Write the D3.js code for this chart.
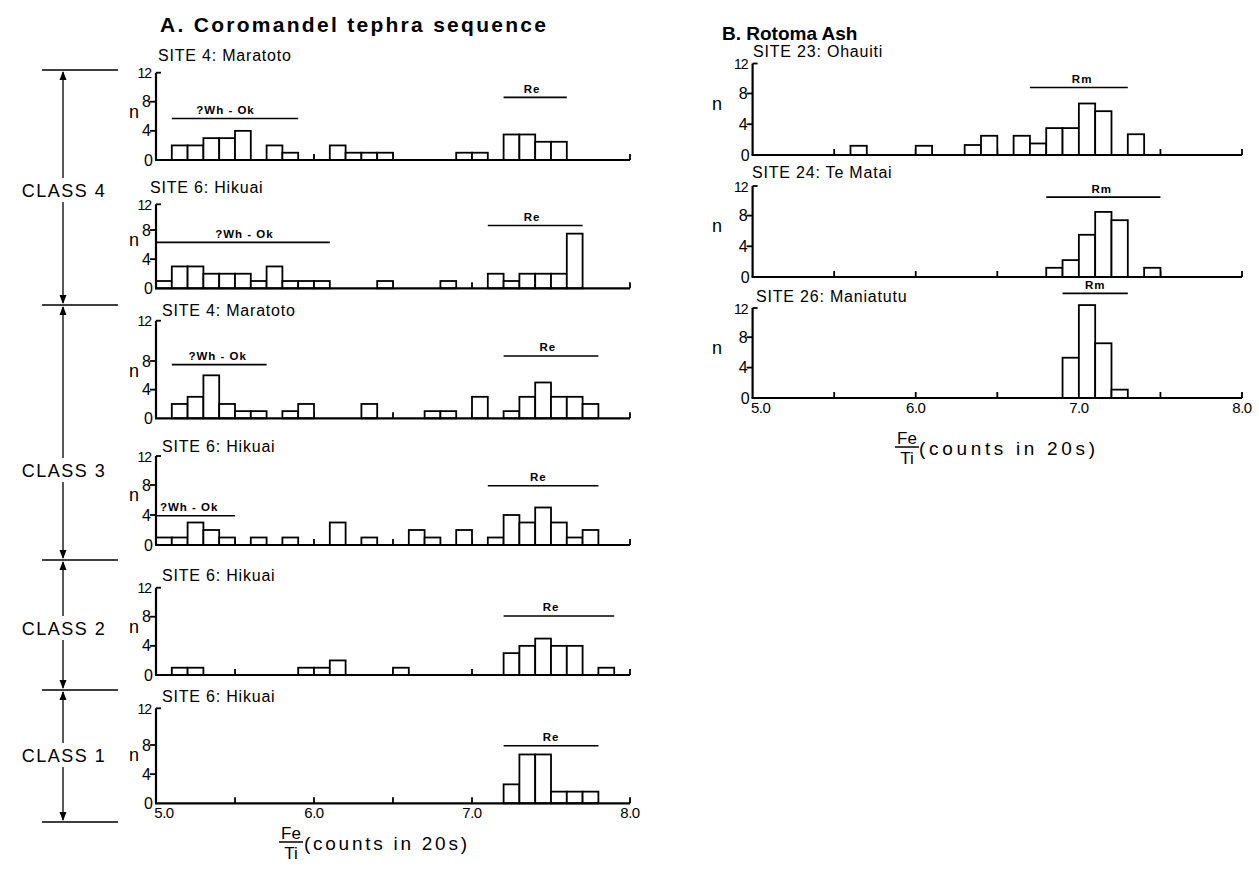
<!DOCTYPE html>
<html><head><meta charset="utf-8">
<script src="https://cdn.jsdelivr.net/npm/d3@7"></script>
<style>
body{margin:0;background:#fff}
svg{display:block}
text{font-family:"Liberation Sans",Arial,Helvetica,sans-serif;fill:#000}
</style>
</head><body>
<svg id="chart" width="1259" height="871"></svg>
<script>
// ---------------- DATA ----------------
const xTickValues = [5.0, 6.0, 7.0, 8.0];
const xTickLabels = ["5.0", "6.0", "7.0", "8.0"];
const minorTickValues = [5.5, 6.0, 6.5, 7.0, 7.5, 8.0];
const yTickValues = [0, 4, 8, 12];
const binWidth = 0.1;

const titleA = "A. Coromandel  tephra sequence";
const titleB = "B. Rotoma Ash";
const axisTitleText = "(counts in 20s)";

const classNames = ["CLASS 4", "CLASS 3", "CLASS 2", "CLASS 1"];

// Panel A histograms: [bin lower edge of Fe/Ti, n]
const sitesA = ["SITE 4: Maratoto", "SITE 6: Hikuai", "SITE 4: Maratoto", "SITE 6: Hikuai", "SITE 6: Hikuai", "SITE 6: Hikuai"];
const binsA1 = [[5.1,2],[5.2,2],[5.3,3],[5.4,3],[5.5,4],[5.7,2],[5.8,1],[6.1,2],[6.2,1],[6.3,1],[6.4,1],[6.9,1],[7.0,1],[7.2,3.5],[7.3,3.5],[7.4,2.5],[7.5,2.5]];
const binsA2 = [[5.0,1],[5.1,3],[5.2,3],[5.3,2],[5.4,2],[5.5,2],[5.6,1],[5.7,3],[5.8,1],[5.9,1],[6.0,1],[6.4,1],[6.8,1],[7.1,2],[7.2,1],[7.3,2],[7.4,2],[7.5,2],[7.6,7.5]];
const binsA3 = [[5.1,2],[5.2,3],[5.3,6],[5.4,2],[5.5,1],[5.6,1],[5.8,1],[5.9,2],[6.3,2],[6.7,1],[6.8,1],[7.0,3],[7.2,1],[7.3,3],[7.4,5],[7.5,3],[7.6,3],[7.7,2]];
const binsA4 = [[5.0,1],[5.1,1],[5.2,3],[5.3,2],[5.4,1],[5.6,1],[5.8,1],[6.1,3],[6.3,1],[6.6,2],[6.7,1],[6.9,2],[7.1,1],[7.2,4],[7.3,3],[7.4,5],[7.5,3],[7.6,1],[7.7,2]];
const binsA5 = [[5.1,1],[5.2,1],[5.9,1],[6.0,1],[6.1,2],[6.5,1],[7.2,3],[7.3,4],[7.4,5],[7.5,4],[7.6,4],[7.8,1]];
const binsA6 = [[7.2,2.6],[7.3,6.7],[7.4,6.7],[7.5,1.6],[7.6,1.6],[7.7,1.6]];

// Group ranges: label, from, to, n-level of the bar, label centre
const rangesA1 = [["?Wh - Ok",5.1,5.9,5.7,5.44],["Re",7.2,7.6,8.6,7.38]];
const rangesA2 = [["?Wh - Ok",5.0,6.1,6.3,5.56],["Re",7.1,7.7,8.7,7.38]];
const rangesA3 = [["?Wh - Ok",5.1,5.7,7.5,5.39],["Re",7.2,7.8,8.5,7.48]];
const rangesA4 = [["?Wh - Ok",5.0,5.5,3.9,5.21],["Re",7.1,7.8,7.9,7.42]];
const rangesA5 = [["Re",7.2,7.9,8.1,7.5]];
const rangesA6 = [["Re",7.2,7.8,7.9,7.5]];

// Panel B histograms
const sitesB = ["SITE 23: Ohauiti", "SITE 24: Te Matai", "SITE 26: Maniatutu"];
const binsB1 = [[5.6,1.2],[6.0,1.2],[6.3,1.3],[6.4,2.5],[6.6,2.5],[6.7,1.5],[6.8,3.5],[6.9,3.5],[7.0,6.7],[7.1,5.7],[7.3,2.7]];
const binsB2 = [[6.8,1.2],[6.9,2.2],[7.0,5.5],[7.1,8.5],[7.2,7.4],[7.4,1.2]];
const binsB3 = [[6.9,5.3],[7.0,12.4],[7.1,7.2],[7.2,1.1]];
const rangesB1 = [["Rm",6.7,7.3,8.8,7.02]];
const rangesB2 = [["Rm",6.8,7.5,10.5,7.14]];
const rangesB3 = [["Rm",6.9,7.3,14.0,7.1]];

// ---------------- LAYOUT ----------------
const W = 1259, H = 871;
const xA = d3.scaleLinear().domain([5, 8]).range([156, 630]);
const xB = d3.scaleLinear().domain([5, 8]).range([752.6, 1242]);

const layoutA = [
  {base:160,   y8:101.7, y12:72.7,  lx:158, ly:61},
  {base:288.3, y8:230,   y12:204.3, lx:150, ly:193},
  {base:418.3, y8:361,   y12:320.7, lx:162, ly:316},
  {base:545,   y8:485,   y12:456,   lx:162, ly:452},
  {base:675,   y8:616.7, y12:587.7, lx:162, ly:581},
  {base:803.3, y8:745,   y12:708.3, lx:162, ly:702}
];
const layoutB = [
  {base:155,   y8:93.5,  y12:63.5,  lx:753, ly:57},
  {base:277,   y8:215.6, y12:186,   lx:752, ly:178},
  {base:398,   y8:337.2, y12:308,   lx:756, ly:302}
];

const panelsA = [binsA1,binsA2,binsA3,binsA4,binsA5,binsA6].map((b,i)=>({site:sitesA[i], bins:b, ranges:[rangesA1,rangesA2,rangesA3,rangesA4,rangesA5,rangesA6][i], lay:layoutA[i], x:xA, nx:134}));
const panelsB = [binsB1,binsB2,binsB3].map((b,i)=>({site:sitesB[i], bins:b, ranges:[rangesB1,rangesB2,rangesB3][i], lay:layoutB[i], x:xB, nx:717}));

const svg = d3.select("#chart");
svg.append("rect").attr("width", W).attr("height", H).attr("fill", "#fff");

function drawPanel(p, showX) {
  const x = p.x, L = p.lay;
  const y = d3.scaleLinear().domain([0, 8, 12]).range([L.base, L.y8, L.y12]);
  const g = svg.append("g");
  const x0 = x.range()[0], x1 = x.range()[1];

  // minor ticks on baseline (pointing up), drawn below bars
  g.selectAll("line.mt").data(minorTickValues).join("line")
    .attr("x1", d => x(d)).attr("x2", d => x(d))
    .attr("y1", y(0)).attr("y2", y(0) - 6)
    .attr("stroke", "#000").attr("stroke-width", 1.8);

  // bars
  g.selectAll("rect.bar").data(p.bins).join("rect")
    .attr("x", d => x(d[0]))
    .attr("width", d => x(d[0] + binWidth) - x(d[0]))
    .attr("y", d => y(d[1]))
    .attr("height", d => y(0) - y(d[1]))
    .attr("fill", "#fff").attr("stroke", "#000").attr("stroke-width", 1.8);

  // baseline & y axis
  g.append("line").attr("x1", x0 - 1).attr("x2", x1).attr("y1", y(0)).attr("y2", y(0))
    .attr("stroke", "#000").attr("stroke-width", 2.2);
  g.append("line").attr("x1", x0).attr("x2", x0).attr("y1", y(0)).attr("y2", y(12))
    .attr("stroke", "#000").attr("stroke-width", 2.2);

  // y ticks
  g.selectAll("line.yt").data(yTickValues.filter(v => v > 0)).join("line")
    .attr("x1", d => d === 12 ? x0 : x0 - 6).attr("x2", d => d === 12 ? x0 + 5 : x0)
    .attr("y1", d => y(d)).attr("y2", d => y(d))
    .attr("stroke", "#000").attr("stroke-width", 1.8);
  g.selectAll("text.yl").data(yTickValues).join("text")
    .attr("x", d => d === 0 ? x0 - 3 : x0 - 5)
    .attr("y", d => y(d) + 5.5)
    .attr("text-anchor", "end")
    .attr("font-size", d => d === 12 ? 14 : 16)
    .attr("letter-spacing", d => d === 12 ? -1 : 0)
    .text(d => d);

  // site label
  g.append("text").attr("x", L.lx).attr("y", L.ly)
    .attr("font-size", 16).attr("letter-spacing", 0.8).text(p.site);

  // n label
  g.append("text").attr("x", p.nx).attr("y", y(6.5) + 5)
    .attr("text-anchor", "middle").attr("font-size", 18).text("n");

  // group ranges
  p.ranges.forEach(r => {
    g.append("line").attr("x1", x(r[1])).attr("x2", x(r[2]))
      .attr("y1", y(r[3])).attr("y2", y(r[3]))
      .attr("stroke", "#000").attr("stroke-width", 1.6);
    g.append("text").attr("x", x(r[4])).attr("y", y(r[3]) - 4.5)
      .attr("text-anchor", "middle").attr("font-size", 11.5).attr("font-weight", "bold")
      .attr("letter-spacing", 1).text(r[0]);
  });

  if (showX) {
    g.selectAll("text.xl").data(xTickValues).join("text")
      .attr("x", (d, i) => x(d) + (i === 0 ? 8 : 0))
      .attr("y", y(0) + 15)
      .attr("text-anchor", "middle").attr("font-size", 15).attr("letter-spacing", -0.5)
      .text((d, i) => xTickLabels[i]);
  }
}

panelsA.forEach((p, i) => drawPanel(p, i === panelsA.length - 1));
panelsB.forEach((p, i) => drawPanel(p, i === panelsB.length - 1));

// axis titles (Fe / Ti fraction)
function axisTitle(cx, ty, textX, textLen) {
  const g = svg.append("g");
  g.append("text").attr("x", cx).attr("y", ty - 8).attr("text-anchor", "middle").attr("font-size", 17).text("Fe");
  g.append("line").attr("x1", cx - 12).attr("x2", cx + 12).attr("y1", ty - 5).attr("y2", ty - 5)
    .attr("stroke", "#000").attr("stroke-width", 1.5);
  g.append("text").attr("x", cx).attr("y", ty + 12).attr("text-anchor", "middle").attr("font-size", 17).text("Ti");
  g.append("text").attr("x", textX).attr("y", ty + 3).attr("font-size", 19)
    .attr("textLength", textLen).attr("lengthAdjust", "spacing").text(axisTitleText);
}
axisTitle(291, 847, 304, 163);
axisTitle(907, 452, 919, 176);

// titles
svg.append("text").attr("x", 160).attr("y", 32).attr("font-size", 21).attr("font-weight", "bold")
  .attr("textLength", 386).attr("lengthAdjust", "spacing").text(titleA);
svg.append("text").attr("x", 722).attr("y", 40).attr("font-size", 19).attr("font-weight", "bold")
  .text(titleB);

// class brackets
const classBounds = [70, 305, 560, 690, 822];
const classLabelY = [190, 470, 628, 755];
const bx = 63;
const cg = svg.append("g");
cg.selectAll("line.cb").data(classBounds).join("line")
  .attr("x1", 42).attr("x2", 118).attr("y1", d => d).attr("y2", d => d)
  .attr("stroke", "#000").attr("stroke-width", 1.4);
classNames.forEach((name, i) => {
  const top = classBounds[i], bot = classBounds[i + 1];
  cg.append("line").attr("x1", bx).attr("x2", bx).attr("y1", top + 2).attr("y2", bot - 2)
    .attr("stroke", "#000").attr("stroke-width", 1.3);
  cg.append("path").attr("d", `M${bx},${top + 1} l-3.5,9 l7,0 Z`).attr("fill", "#000");
  cg.append("path").attr("d", `M${bx},${bot - 1} l-3.5,-9 l7,0 Z`).attr("fill", "#000");
  cg.append("rect").attr("x", 14).attr("y", classLabelY[i] - 12).attr("width", 100).attr("height", 24).attr("fill", "#fff");
  cg.append("text").attr("x", bx + 1).attr("y", classLabelY[i] + 6.5).attr("text-anchor", "middle")
    .attr("font-size", 18).attr("letter-spacing", 1.5).text(name);
});
</script>
</body></html>
